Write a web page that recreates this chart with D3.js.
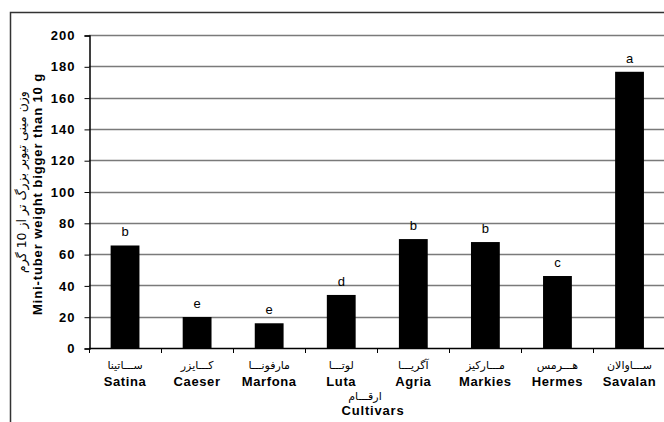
<!DOCTYPE html>
<html>
<head>
<meta charset="utf-8">
<script src="https://cdn.jsdelivr.net/npm/d3@7/dist/d3.min.js"></script>
<style>
  html, body { margin: 0; padding: 0; background: #fff; }
  svg { display: block; }
</style>
</head>
<body>
<svg id="chart" width="664" height="422"></svg>
<script>
// Cultivar names (English and Persian), mean mini-tuber weight, and significance letters
const cultivars = ["Satina", "Caeser", "Marfona", "Luta", "Agria", "Markies", "Hermes", "Savalan"];
const cultivarsFa = ["ســـاتینا", "کـــایزر", "مارفونـــا", "لوتـــا", "آگریـــا", "مـــارکیز", "هـــرمس", "ســـاوالان"];
const weights = [65.5, 19.8, 15.8, 33.9, 69.6, 67.7, 46, 176.5];
const letters = ["b", "e", "e", "d", "b", "b", "c", "a"];
const yTicks = [0, 20, 40, 60, 80, 100, 120, 140, 160, 180, 200];

const svg = d3.select("#chart");
const W = 664, H = 422;
const plotLeft = 89, plotTop = 35, plotBottom = 348;
const step = 72.07;
const plotRight = plotLeft + step * cultivars.length;

svg.append("rect").attr("width", W).attr("height", H).attr("fill", "#fff");

// outer frame
svg.append("path")
  .attr("d", `M10.5,${H} V12.5 H${W}`)
  .attr("fill", "none").attr("stroke", "#333").attr("stroke-width", 1.5);

const x = d3.scaleBand().domain(cultivars).range([plotLeft, plotRight])
  .paddingInner(0.6).paddingOuter(0.3);
const y = d3.scaleLinear().domain([0, 200]).range([plotBottom, plotTop]);

// horizontal gridlines
svg.append("g").selectAll("line").data(yTicks.filter(d => d > 0)).join("line")
  .attr("x1", plotLeft).attr("x2", W)
  .attr("y1", d => Math.round(y(d)) + 0.5).attr("y2", d => Math.round(y(d)) + 0.5)
  .attr("stroke", "#7a7a7a").attr("stroke-width", 1.5);

// y axis
const yAxis = d3.axisLeft(y).tickValues(yTicks).tickSize(5).tickPadding(9);
const gy = svg.append("g").attr("transform", `translate(${plotLeft + 0.5},0.5)`).call(yAxis);
gy.select(".domain").attr("stroke", "#000").attr("stroke-width", 1.5);
gy.selectAll(".tick line").attr("stroke", "#000");
gy.selectAll(".tick text")
  .attr("font-family", "Liberation Sans, Arial, sans-serif")
  .attr("font-size", 13).attr("font-weight", "bold").attr("fill", "#000")
  .style("letter-spacing", "1px");

// bars
svg.append("g").selectAll("rect").data(cultivars).join("rect")
  .attr("x", d => x(d))
  .attr("y", (d, i) => y(weights[i]))
  .attr("width", x.bandwidth())
  .attr("height", (d, i) => y(0) - y(weights[i]))
  .attr("fill", "#000");

// x axis line and boundary ticks
svg.append("line")
  .attr("x1", plotLeft).attr("x2", W)
  .attr("y1", plotBottom + 0.5).attr("y2", plotBottom + 0.5)
  .attr("stroke", "#000").attr("stroke-width", 1.5);
const bounds = cultivars.map(d => x(d) - (x.step() - x.bandwidth()) / 2);
svg.append("g").selectAll("line").data(bounds).join("line")
  .attr("x1", d => Math.round(d) + 0.5).attr("x2", d => Math.round(d) + 0.5)
  .attr("y1", plotBottom).attr("y2", plotBottom + 5)
  .attr("stroke", "#000");

// significance letters
svg.append("g").selectAll("text").data(cultivars).join("text")
  .attr("x", d => x(d) + x.bandwidth() / 2)
  .attr("y", (d, i) => y(weights[i]) - 9)
  .attr("text-anchor", "middle")
  .attr("font-family", "Liberation Sans, Arial, sans-serif")
  .attr("font-size", 13).attr("fill", "#000")
  .text((d, i) => letters[i]);

// category labels
const cx = d => x(d) + x.bandwidth() / 2;
svg.append("g").selectAll("text").data(cultivars).join("text")
  .attr("x", cx).attr("y", 369)
  .attr("text-anchor", "middle")
  .attr("font-family", "DejaVu Sans, sans-serif")
  .attr("font-size", 11).attr("fill", "#000")
  .text((d, i) => cultivarsFa[i]);
svg.append("g").selectAll("text").data(cultivars).join("text")
  .attr("x", cx).attr("y", 386)
  .attr("text-anchor", "middle")
  .attr("font-family", "Liberation Sans, Arial, sans-serif")
  .attr("font-size", 13).attr("font-weight", "bold").attr("fill", "#000")
  .style("letter-spacing", "0.6px")
  .text(d => d);

// x axis titles
svg.append("text")
  .attr("x", 365).attr("y", 400).attr("text-anchor", "middle")
  .attr("font-family", "DejaVu Sans, sans-serif")
  .attr("font-size", 11).attr("fill", "#000")
  .text("ارقـــام");
svg.append("text")
  .attr("x", 373).attr("y", 415).attr("text-anchor", "middle")
  .attr("font-family", "Liberation Sans, Arial, sans-serif")
  .attr("font-size", 13).attr("font-weight", "bold").attr("fill", "#000")
  .style("letter-spacing", "0.8px")
  .text("Cultivars");

// y axis titles
svg.append("text")
  .attr("transform", "translate(42,194) rotate(-90)")
  .attr("text-anchor", "middle")
  .attr("font-family", "Liberation Sans, Arial, sans-serif")
  .attr("font-size", 13).attr("font-weight", "bold").attr("fill", "#000")
  .style("letter-spacing", "0.9px")
  .text("Mini-tuber weight bigger than 10 g");
svg.append("text")
  .attr("transform", "translate(26,182) rotate(-90)")
  .attr("text-anchor", "middle")
  .attr("font-family", "DejaVu Sans, sans-serif")
  .attr("font-size", 12.5).attr("fill", "#000")
  .text("وزن مینی تیوبر بزرگ تر از 10 گرم");
</script>
</body>
</html>
